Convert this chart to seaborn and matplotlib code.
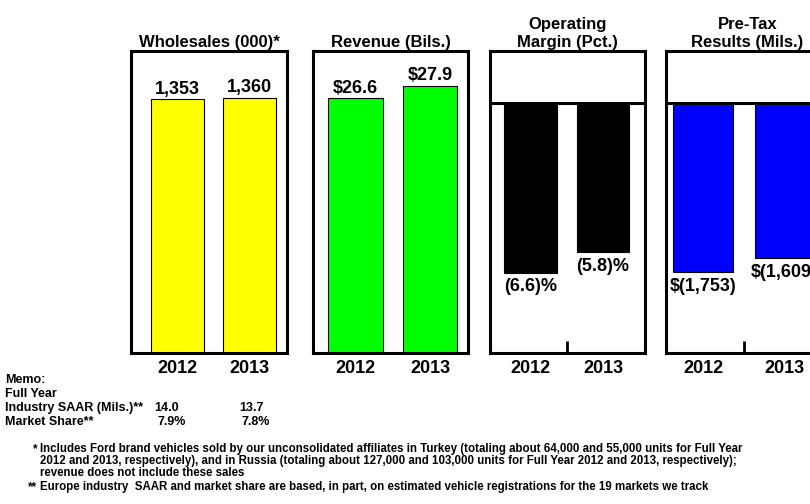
import matplotlib.pyplot as plt
import seaborn as sns

# Data
years = ['2012', '2013']
wholesales = [1353, 1360]
revenue = [26.6, 27.9]
op_margin = [-6.6, -5.8]
pretax = [-1753, -1609]
saar = [14.0, 13.7]
share = [7.9, 7.8]

footnotes = [
    'Includes Ford brand vehicles sold by our unconsolidated affiliates in Turkey (totaling about 64,000 and 55,000 units for Full Year',
    '2012 and 2013, respectively), and in Russia (totaling about 127,000 and 103,000 units for Full Year 2012 and 2013, respectively);',
    'revenue does not include these sales',
    'Europe industry  SAAR and market share are based, in part, on estimated vehicle registrations for the 19 markets we track',
]

sns.set_theme(style='white')
plt.rcParams['font.family'] = ['Liberation Sans', 'DejaVu Sans']

W, H = 810, 504
fig = plt.figure(figsize=(W / 100, H / 100), dpi=100)

# title, values, labels, colour, ylim, xlim, left px, width px, zero line
panels = [
    ('Wholesales (000)*', wholesales, [f'{v:,}' for v in wholesales], '#FFFF00',
     (0, 1609), (-0.646, 1.521), 131, 156, False),
    ('Revenue (Bils.)', revenue, [f'${v}' for v in revenue], '#00FF00',
     (0, 31.5), (-0.57, 1.51), 313, 155, False),
    ('Operating\nMargin (Pct.)', op_margin, [f'({abs(v)})%' for v in op_margin], '#000000',
     (-9.71, 2.02), (-0.56, 1.58), 490, 155, True),
    ('Pre-Tax\nResults (Mils.)', pretax, [f'$({abs(v):,})' for v in pretax], '#0000FF',
     (-2593, 539), (-0.457, 1.55), 666, 163, True),
]

for title, vals, lbls, color, ylim, xlim, left, width, zero in panels:
    ax = fig.add_axes([left / W, 1 - 353 / H, width / W, (353 - 51) / H])
    sns.barplot(x=years, y=vals, color=color, saturation=1, width=0.73,
                edgecolor='black', linewidth=0.8, ax=ax)
    ax.bar_label(ax.containers[0], labels=lbls, padding=4 if zero else 1,
                 fontsize=13, fontweight='bold', color='black')
    if zero:
        ax.axhline(0, color='black', lw=2.2)
        ax.set_xticks([0.5], minor=True)
        ax.tick_params(axis='x', which='minor', direction='in', length=9,
                       width=2, color='black', bottom=True)
    ax.set_ylim(*ylim)
    ax.set_xlim(*xlim)
    ax.set_yticks([])
    ax.set_xlabel('')
    ax.set_ylabel('')
    ax.tick_params(axis='x', which='major', length=0, pad=5)
    for t in ax.get_xticklabels():
        t.set_fontsize(13)
        t.set_fontweight('bold')
        t.set_color('black')
    for s in ax.spines.values():
        s.set_color('black')
        s.set_linewidth(2.2)
    ax.set_title(title, fontsize=12, fontweight='bold', pad=3, color='black')

# Memo block
memo_kw = dict(fontsize=9, fontweight='bold', va='center', color='black')
fig.text(5 / W, 1 - 380 / H, 'Memo:', **memo_kw)
fig.text(5 / W, 1 - 394 / H, 'Full Year', **memo_kw)
fig.text(5 / W, 1 - 408 / H, 'Industry SAAR (Mils.)**', **memo_kw)
fig.text(5 / W, 1 - 422 / H, 'Market Share**', **memo_kw)
fig.text(167 / W, 1 - 408 / H, f'{saar[0]:.1f}', ha='center', **memo_kw)
fig.text(251 / W, 1 - 408 / H, f'{saar[1]:.1f}', ha='center', **memo_kw)
fig.text(172 / W, 1 - 422 / H, f'{share[0]:.1f}%', ha='center', **memo_kw)
fig.text(256 / W, 1 - 422 / H, f'{share[1]:.1f}%', ha='center', **memo_kw)

# Footnotes
fn_kw = dict(fontsize=8.3, fontweight='bold', va='center', color='black',
             family=['Liberation Sans Narrow', 'Liberation Sans'])
fn_y = [449, 461, 473, 487]
fig.text(37 / W, 1 - fn_y[0] / H, '*', ha='right', **fn_kw)
for y, line in zip(fn_y, footnotes):
    fig.text(40 / W, 1 - y / H, line, **fn_kw)
fig.text(37 / W, 1 - fn_y[3] / H, '**', ha='right', **fn_kw)

fig.savefig('out.png', dpi=100, facecolor='white')
